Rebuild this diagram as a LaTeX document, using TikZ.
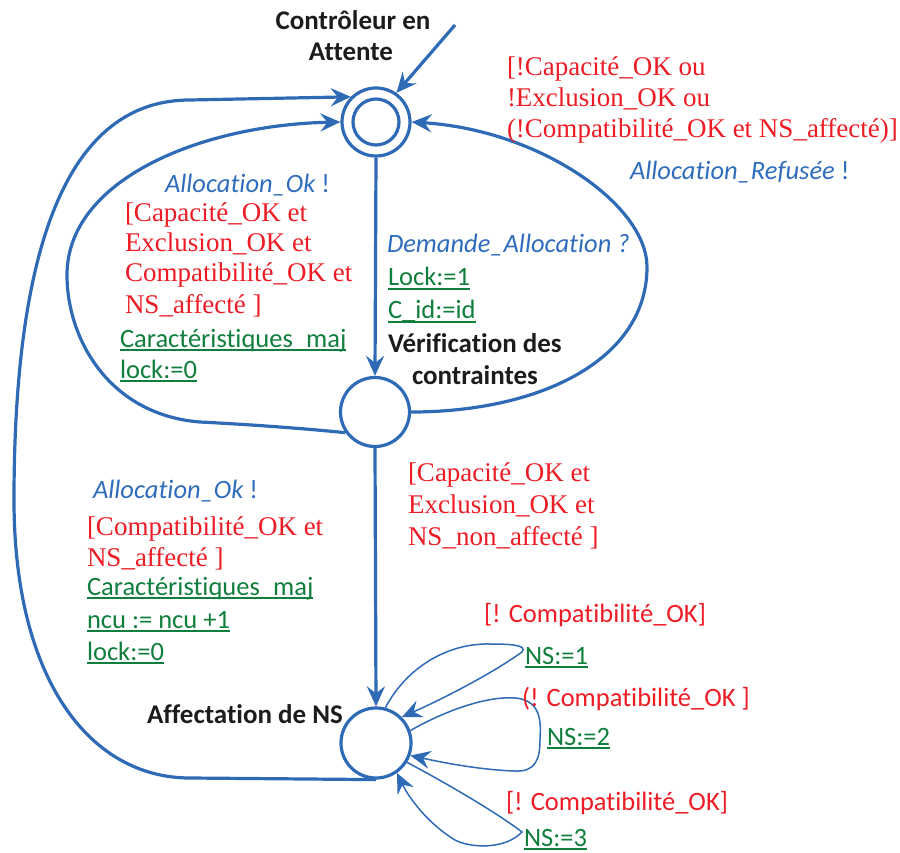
\documentclass[tikz,border=0pt]{standalone}
\usepackage{fontspec}
\setmainfont{Liberation Serif}
\newfontfamily\calfont[Ligatures={NoCommon}]{Carlito}
\usetikzlibrary{arrows.meta}

\definecolor{lblue}{RGB}{46,106,182}
\definecolor{tblue}{RGB}{47,109,188}
\definecolor{tred}{RGB}{237,28,36}
\definecolor{tgreen}{RGB}{16,126,60}
\definecolor{tblack}{RGB}{28,28,28}

% underline sitting just below the baseline, crossing descenders
\newsavebox\ulbox
\newcommand\ulin[1]{\sbox\ulbox{#1}\rlap{\rule[-0.15em]{\wd\ulbox}{0.065em}}\usebox\ulbox}

\tikzset{
  st/.style={circle, draw=lblue, line width=3.2pt, minimum size=68pt, inner sep=0pt},
  tip/.style={-{Stealth[length=20pt,width=18pt,inset=7pt]}},
  arr/.style={tip, draw=lblue, line width=3.2pt},
  loop/.style={tip, draw=lblue, line width=1.5pt},
  txt/.style={anchor=base west, inner sep=0pt, outer sep=0pt},
  guard/.style={txt, text=tred, font=\fontsize{27}{30}\selectfont},
  sync/.style={txt, text=tblue, font=\calfont\fontsize{26.5}{30}\selectfont\itshape},
  upd/.style={txt, text=tgreen, font=\calfont\fontsize{26.5}{30}\selectfont},
  redcal/.style={txt, text=tred, font=\calfont\fontsize{26.5}{30}\selectfont},
  sname/.style={txt, text=tblack, font=\calfont\fontsize{27}{30}\selectfont\bfseries},
}

\begin{document}
\begin{tikzpicture}[x=1pt,y=-1pt]
\useasboundingbox (0,0) rectangle (900,853);

% states
\node[st] (wait) at (376,122) {};
\node[st, minimum size=46pt] (waitin) at (376,122) {};
\node[st, minimum size=69pt] (verif) at (375,412) {};
\node[st, minimum size=70pt] (affect) at (376,743) {};

% initial transition
\coordinate (init) at (455,25);
\draw[arr] (init) -- (wait.55);

% main transitions
\draw[arr] (wait.south) -- (verif.north);
\draw[arr] (verif.south) -- (affect.north);

% refused allocation: back to waiting on the right
\draw[arr] (verif.east) .. controls (540,412) and (647,360) .. (647,267)
  .. controls (647,205) and (540,130) .. (wait.east);

% allocation ok from verification
\draw[arr] (verif.215) .. controls (300,428) and (240,424) .. (200,422)
  .. controls (110,415) and (67,340) .. (67,275)
  .. controls (67,180) and (200,125) .. (wait.west);

% allocation ok from NS assignment
\draw[arr] (affect.south) -- (190,778) .. controls (90,778) and (14,680) .. (14,500)
  .. controls (14,240) and (70,100) .. (190,100) -- (wait.135);

% self loops on NS assignment
\draw[loop] (affect.75) .. controls (405,670) and (445,643) .. (490,644)
  .. controls (510,644) and (528,645) .. (522,652)
  .. controls (490,675) and (440,700) .. (affect.45);
\draw[loop] (affect.20) .. controls (450,708) and (490,696) .. (515,698)
  .. controls (545,700) and (540,730) .. (540,740)
  .. controls (540,760) and (535,772) .. (515,771)
  .. controls (480,770) and (440,762) .. (affect.-20);
\draw[loop] (affect.-32) .. controls (450,785) and (500,815) .. (522,832)
  .. controls (505,850) and (470,848) .. (455,840)
  .. controls (430,825) and (410,800) .. (affect.-55);

% state names
\node[sname, anchor=base] (n0a) at (353,30) {Contrôleur en};
\node[sname, anchor=base] (n0b) at (351,61) {Attente};
\node[sname] (n1a) at (388,352) {Vérification des};
\node[sname] (n1b) at (412,384) {contraintes};
\node[sname] (n2) at (147,723) {Affectation de NS};

% refused allocation labels
\node[guard] (g1a) at (507,76) {[!Capacité\_OK ou};
\node[guard] (g1b) at (507,107) {!Exclusion\_OK ou};
\node[guard] (g1c) at (507,138) {(!Compatibilité\_OK et NS\_affecté)]};
\node[sync] (s1) at (630,180) {Allocation\_Refusée {\upshape !}};

% allocation ok (from verification) labels
\node[sync] (s2) at (165,193) {Allocation\_Ok {\upshape !}};
\node[guard] (g2a) at (125,222) {[Capacité\_OK et};
\node[guard] (g2b) at (125,252) {Exclusion\_OK et};
\node[guard] (g2c) at (125,282) {Compatibilité\_OK et};
\node[guard] (g2d) at (125,313) {NS\_affecté ]};
\node[upd] (u2a) at (120,347) {\ulin{Caractéristiques\_maj}};
\node[upd] (u2b) at (120,378) {\ulin{lock:=0}};

% request labels
\node[sync] (s3) at (387,253) {Demande\_Allocation ?};
\node[upd] (u3a) at (388,286) {\ulin{Lock:=1}};
\node[upd] (u3b) at (388,319) {\ulin{C\_id:=id}};

% allocation ok (from NS assignment) labels
\node[sync] (s4) at (93,498) {Allocation\_Ok {\upshape !}};
\node[guard] (g4a) at (87,535) {[Compatibilité\_OK et};
\node[guard] (g4b) at (87,566) {NS\_affecté ]};
\node[upd] (u4a) at (87,595) {\ulin{Caractéristiques\_maj}};
\node[upd] (u4b) at (87,628) {\ulin{ncu := ncu +1}};
\node[upd] (u4c) at (87,660) {\ulin{lock:=0}};

% NS assignment guard
\node[guard] (g5a) at (408,481) {[Capacité\_OK et};
\node[guard] (g5b) at (408,513) {Exclusion\_OK et};
\node[guard] (g5c) at (408,545) {NS\_non\_affecté ]};

% self loop labels
\node[redcal] (l1) at (484,622) {[! Compatibilité\_OK]};
\node[upd] (v1) at (525,664) {\ulin{NS:=1}};
\node[redcal] (l2) at (522,706) {(! Compatibilité\_OK ]};
\node[upd] (v2) at (547,745) {\ulin{NS:=2}};
\node[redcal] (l3) at (506,810) {[! Compatibilité\_OK]};
\node[upd] (v3) at (524,846) {\ulin{NS:=3}};
\end{tikzpicture}
\end{document}
